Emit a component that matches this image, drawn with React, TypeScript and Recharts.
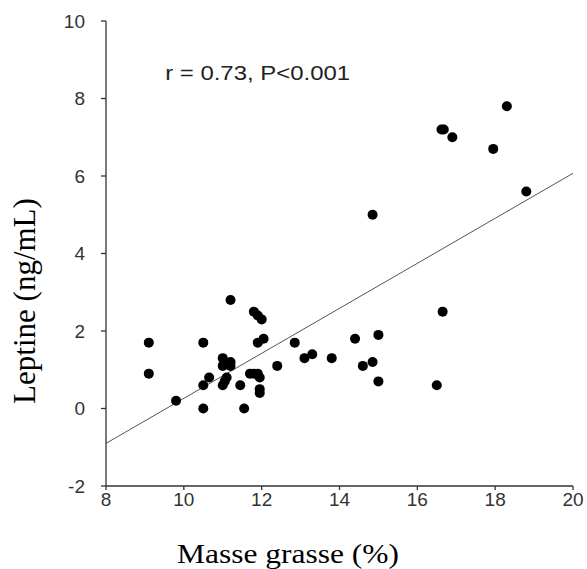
import React from 'react';
import {
  ScatterChart,
  Scatter,
  XAxis,
  YAxis,
  ReferenceLine,
  ReferenceDot,
  Label
} from 'recharts';

// body fat (%) and leptin (ng/mL), one entry per subject
const masseGrasse = [
  9.1, 9.1, 9.8, 10.5, 10.5, 10.5, 10.65, 11.0, 11.0, 11.0, 11.05, 11.1,
  11.2, 11.2, 11.2, 11.45, 11.55, 11.7, 11.8, 11.9, 11.95, 11.8, 11.9, 12.0,
  11.9, 12.05, 11.95, 11.95, 12.4, 12.85, 13.1, 13.3, 13.8, 14.4, 14.6, 14.85,
  15.0, 15.0, 16.5, 16.65, 14.85, 16.62, 16.68, 16.9, 17.95, 18.3, 18.8
];
const leptine = [
  1.7, 0.9, 0.2, 1.7, 0.6, 0.0, 0.8, 1.3, 1.1, 0.6, 0.7, 0.8,
  1.2, 1.1, 2.8, 0.6, 0.0, 0.9, 0.9, 0.9, 0.8, 2.5, 2.4, 2.3,
  1.7, 1.8, 0.5, 0.4, 1.1, 1.7, 1.3, 1.4, 1.3, 1.8, 1.1, 1.2,
  1.9, 0.7, 0.6, 2.5, 5.0, 7.2, 7.2, 7.0, 6.7, 7.8, 5.6
];

// regression line ends
const fitX = [8, 20];
const fitY = [-0.9, 6.07];

const xTicks = [8, 10, 12, 14, 16, 18, 20];
const yTicks = [-2, 0, 2, 4, 6, 8, 10];

const annotation = 'r = 0.73, P<0.001';
const annotationAt = { x: 9.52, y: 8.47 };

const points = masseGrasse.map((x, i) => ({ x, y: leptine[i] }));

const sans = '"Liberation Sans", Arial, Helvetica, sans-serif';
const serif = '"Liberation Serif", "Times New Roman", serif';

const XTitle = (props: any) => {
  const vb = props.viewBox || { x: 106, y: 486 };
  return (
    <text
      x={vb.x + 71}
      y={vb.y + 77}
      fontFamily={serif}
      fontSize={28}
      fill="#000"
      textLength={222}
      lengthAdjust="spacingAndGlyphs"
    >
      Masse grasse (%)
    </text>
  );
};

const YTitle = (props: any) => {
  const vb = props.viewBox || { x: 0, y: 21 };
  const cx = vb.x + 35;
  const cy = 301;
  return (
    <text
      x={cx}
      y={cy}
      transform={`rotate(-90, ${cx}, ${cy})`}
      textAnchor="middle"
      fontFamily={serif}
      fontSize={31}
      fill="#000"
    >
      Leptine (ng/mL)
    </text>
  );
};

const Annot = (props: any) => {
  const vb = props.viewBox || { x: 165, y: 80 };
  return (
    <text
      x={vb.x}
      y={vb.y}
      fontFamily={sans}
      fontSize={21}
      fill="#222"
      textLength={185}
      lengthAdjust="spacingAndGlyphs"
    >
      {annotation}
    </text>
  );
};

const Dot = (p: any) => <circle cx={p.cx} cy={p.cy} r={5} fill="#000" />;

export default function App() {
  return (
    <div style={{ position: 'absolute', left: 0, top: 0, background: '#fff' }}>
      <ScatterChart
        width={587}
        height={569}
        margin={{ top: 21, right: 14, bottom: 0, left: 0 }}
      >
        <XAxis
          type="number"
          dataKey="x"
          domain={[8, 20]}
          ticks={xTicks}
          interval={0}
          height={83}
          tickSize={4}
          tickMargin={3}
          stroke="#333"
          strokeWidth={1.3}
          tick={{ fontSize: 19, fontFamily: sans, fill: '#333' }}
          allowDataOverflow
        >
          <Label content={<XTitle />} />
        </XAxis>
        <YAxis
          type="number"
          dataKey="y"
          domain={[-2, 10]}
          ticks={yTicks}
          interval={0}
          width={106}
          tickSize={5}
          tickMargin={16}
          stroke="#333"
          strokeWidth={1.3}
          tick={{ fontSize: 19, fontFamily: sans, fill: '#333' }}
          allowDataOverflow
        >
          <Label content={<YTitle />} />
        </YAxis>
        <ReferenceLine
          segment={[
            { x: fitX[0], y: fitY[0] },
            { x: fitX[1], y: fitY[1] }
          ]}
          stroke="#555"
          strokeWidth={1}
          ifOverflow="visible"
        />
        <Scatter data={points} shape={Dot} isAnimationActive={false} />
        <ReferenceDot
          x={annotationAt.x}
          y={annotationAt.y}
          r={0}
          fill="none"
          stroke="none"
          ifOverflow="visible"
        >
          <Label content={<Annot />} />
        </ReferenceDot>
      </ScatterChart>
    </div>
  );
}
